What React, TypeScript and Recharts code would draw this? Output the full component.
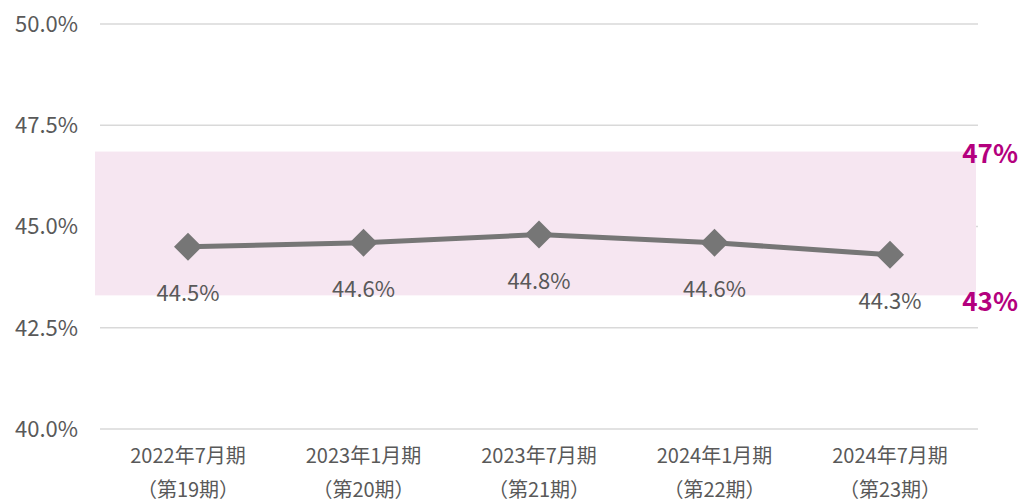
import { LineChart, Line, XAxis, YAxis, CartesianGrid, ReferenceArea, LabelList } from 'recharts';

const periods = ['2022年7月期', '2023年1月期', '2023年7月期', '2024年1月期', '2024年7月期'];
const terms = ['（第19期）', '（第20期）', '（第21期）', '（第22期）', '（第23期）'];
const ratios = [44.5, 44.6, 44.8, 44.6, 44.3];
const yTicks = [40, 42.5, 45, 47.5, 50];
const bandLow = 43.3;
const bandHigh = 46.85;
const bandLabels = ['47%', '43%'];

const data = periods.map((p, i) => ({ period: p, term: terms[i], ratio: ratios[i] }));

const FONT = '"Noto Sans CJK JP", "Noto Sans", sans-serif';
const GRAY = '#595959';
const LINE = '#767676';
const MAGENTA = '#B4007E';
const PAD = 88;

function PeriodTick({ x, y, payload, index }: any) {
  return (
    <g>
      <text x={x} y={y + 26} textAnchor="middle" fill={GRAY} fontSize={20} fontFamily={FONT}>
        {payload.value}
      </text>
      <text x={x} y={y + 60} textAnchor="middle" fill={GRAY} fontSize={20} fontFamily={FONT}>
        {terms[index]}
      </text>
    </g>
  );
}

function Diamond({ cx, cy }: any) {
  if (cx == null || cy == null) return null;
  const r = 14;
  return <path d={`M${cx - r},${cy} L${cx},${cy - r} L${cx + r},${cy} L${cx},${cy + r} Z`} fill={LINE} />;
}

// band covers the whole category range, labels sit past its right edge
function Band({ x, y, width, height }: any) {
  const left = x - PAD - 5;
  const w = width + PAD * 2 + 3;
  return (
    <g>
      <rect x={left} y={y} width={w} height={height} fill="#F6E6F1" />
      <text x={left + w + 42} y={y + 11} textAnchor="end" fill={MAGENTA} fontSize={26} fontWeight="bold" fontFamily={FONT}>
        {bandLabels[0]}
      </text>
      <text x={left + w + 42} y={y + height + 16} textAnchor="end" fill={MAGENTA} fontSize={26} fontWeight="bold" fontFamily={FONT}>
        {bandLabels[1]}
      </text>
    </g>
  );
}

export default function App() {
  return (
    <div style={{ position: 'fixed', left: 0, top: 0, width: 1022, height: 504, overflow: 'hidden', background: '#fff' }}>
      <LineChart width={1022} height={504} data={data} margin={{ top: 24, right: 44, left: 0, bottom: 0 }}>
        <ReferenceArea y1={bandLow} y2={bandHigh} ifOverflow="visible" shape={<Band />} />
        <CartesianGrid horizontal vertical={false} stroke="#d9d9d9" strokeWidth={1.5} />
        <XAxis
          dataKey="period"
          axisLine={false}
          tickLine={false}
          height={75}
          interval={0}
          padding={{ left: PAD, right: PAD }}
          tick={<PeriodTick />}
        />
        <YAxis
          domain={[40, 50]}
          ticks={yTicks}
          width={100}
          axisLine={false}
          tickLine={false}
          tickMargin={16}
          tickFormatter={(v: number) => `${v.toFixed(1)}%`}
          tick={{ fill: GRAY, fontSize: 22, fontFamily: FONT }}
        />
        <Line
          dataKey="ratio"
          stroke={LINE}
          strokeWidth={5}
          dot={<Diamond />}
          activeDot={false}
          isAnimationActive={false}
        >
          <LabelList
            dataKey="ratio"
            content={({ x, y, value }: any) => (
              <text x={x} y={y + 54} textAnchor="middle" fill={GRAY} fontSize={22} fontFamily={FONT}>
                {`${Number(value).toFixed(1)}%`}
              </text>
            )}
          />
        </Line>
      </LineChart>
    </div>
  );
}
